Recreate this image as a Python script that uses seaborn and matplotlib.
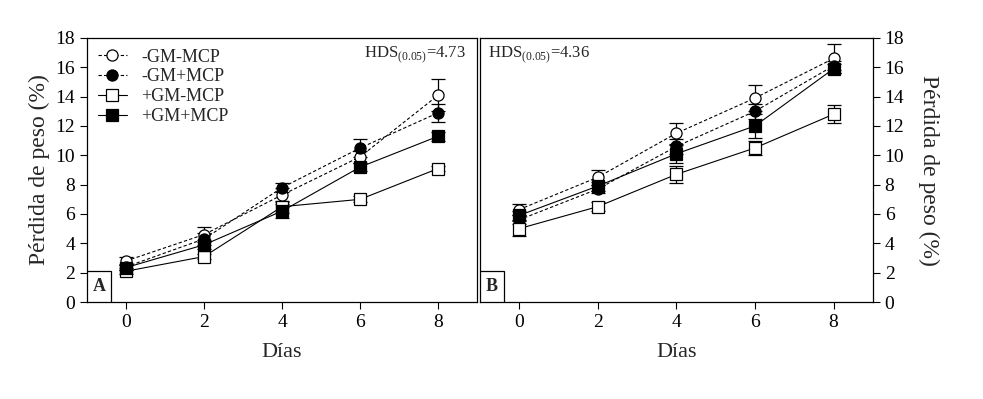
import numpy as np
import pandas as pd
import seaborn as sns
import matplotlib.pyplot as plt
from matplotlib.patches import Rectangle

# data
days = [0, 2, 4, 6, 8]
series = ['-GM-MCP', '-GM+MCP', '+GM-MCP', '+GM+MCP']

# panel A
a_gm_mcp = [2.8, 4.6, 7.3, 9.9, 14.1]
a_gm_pmcp = [2.4, 4.3, 7.8, 10.5, 12.9]
a_pgm_mcp = [2.1, 3.1, 6.5, 7.0, 9.1]
a_pgm_pmcp = [2.35, 3.9, 6.2, 9.2, 11.3]
a_err = [[0.3, 0.5, 0.5, 0.4, 1.1],
         [0.2, 0.4, 0.3, 0.6, 0.6],
         [0.2, 0.2, 0.4, 0.2, 0.2],
         [0.2, 0.3, 0.5, 0.3, 0.3]]

# panel B
b_gm_mcp = [6.3, 8.5, 11.5, 13.9, 16.6]
b_gm_pmcp = [5.6, 7.7, 10.6, 13.0, 16.1]
b_pgm_mcp = [5.0, 6.5, 8.7, 10.5, 12.8]
b_pgm_pmcp = [5.9, 7.9, 10.1, 12.0, 15.9]
b_err = [[0.4, 0.5, 0.7, 0.9, 1.0],
         [0.3, 0.3, 0.5, 0.5, 0.3],
         [0.5, 0.3, 0.6, 0.5, 0.6],
         [0.3, 0.3, 0.6, 0.8, 0.3]]

hds = ['4.73', '4.36']
panels = ['A', 'B']

sns.set_style('ticks')
plt.rcParams['font.family'] = ['Liberation Serif', 'DejaVu Serif']
plt.rcParams['mathtext.fontset'] = 'custom'
plt.rcParams['mathtext.rm'] = 'Liberation Serif'

styles = [dict(marker='o', markerfacecolor='white', linestyle=(0, (3, 2)), markersize=8),
          dict(marker='o', markerfacecolor='black', linestyle=(0, (3, 2)), markersize=8),
          dict(marker='s', markerfacecolor='white', linestyle='-', markersize=8.5),
          dict(marker='s', markerfacecolor='black', linestyle='-', markersize=8.5)]

fig = plt.figure(figsize=(9.83, 3.99), dpi=100)
ax1 = fig.add_axes([0.0885, 0.243, 0.397, 0.662])
ax2 = fig.add_axes([0.488, 0.243, 0.400, 0.662])

data = [[a_gm_mcp, a_gm_pmcp, a_pgm_mcp, a_pgm_pmcp],
        [b_gm_mcp, b_gm_pmcp, b_pgm_mcp, b_pgm_pmcp]]
errs = [a_err, b_err]

for k, ax in enumerate([ax1, ax2]):
    for i, name in enumerate(series):
        df = pd.DataFrame({'dia': days, 'perdida': data[k][i]})
        ax.errorbar(df['dia'], df['perdida'], yerr=errs[k][i], fmt='none',
                    ecolor='black', elinewidth=0.9, capsize=5, capthick=0.9, zorder=2)
        sns.lineplot(data=df, x='dia', y='perdida', ax=ax, color='black', lw=0.8,
                     markeredgecolor='black', markeredgewidth=0.9, errorbar=None,
                     label=name, zorder=3, **styles[i])
    ax.set_xlim(-1, 9)
    ax.set_ylim(0, 18)
    ax.set_xticks(days)
    ax.set_yticks(np.arange(0, 19, 2))
    ax.tick_params(labelsize=14, length=5, width=0.8, direction='out', colors='black')
    for s in ax.spines.values():
        s.set_linewidth(0.9)
        s.set_color('black')
    ax.set_xlabel('Días', fontsize=16, labelpad=9)
    # boxed panel letter
    bw, bh = 24 / 390, 31 / 264
    ax.add_patch(Rectangle((0, 0), bw, bh, transform=ax.transAxes, fc='white',
                           ec='black', lw=0.9, zorder=4))
    ax.text(bw / 2, bh / 2, panels[k], transform=ax.transAxes, fontsize=13,
            fontweight='bold', ha='center', va='center', zorder=5)

ax1.set_ylabel('Pérdida de peso (%)', fontsize=17, labelpad=4)
ax1.text(0.97, 0.975, r'HDS$_{(0.05)}$=' + hds[0], transform=ax1.transAxes,
         fontsize=12, ha='right', va='top')
ax1.legend(loc='upper left', frameon=False, fontsize=13, handlelength=1.6,
           handletextpad=0.8, labelspacing=0.15, borderaxespad=0.3, borderpad=0.3)

ax2.yaxis.tick_right()
ax2.yaxis.set_label_position('right')
ax2.set_ylabel('Pérdida de peso (%)', fontsize=17, rotation=-90, labelpad=25)
ax2.text(0.02, 0.975, r'HDS$_{(0.05)}$=' + hds[1], transform=ax2.transAxes,
         fontsize=12, ha='left', va='top')
ax2.get_legend().remove()

fig.savefig('out.png', dpi=100)
